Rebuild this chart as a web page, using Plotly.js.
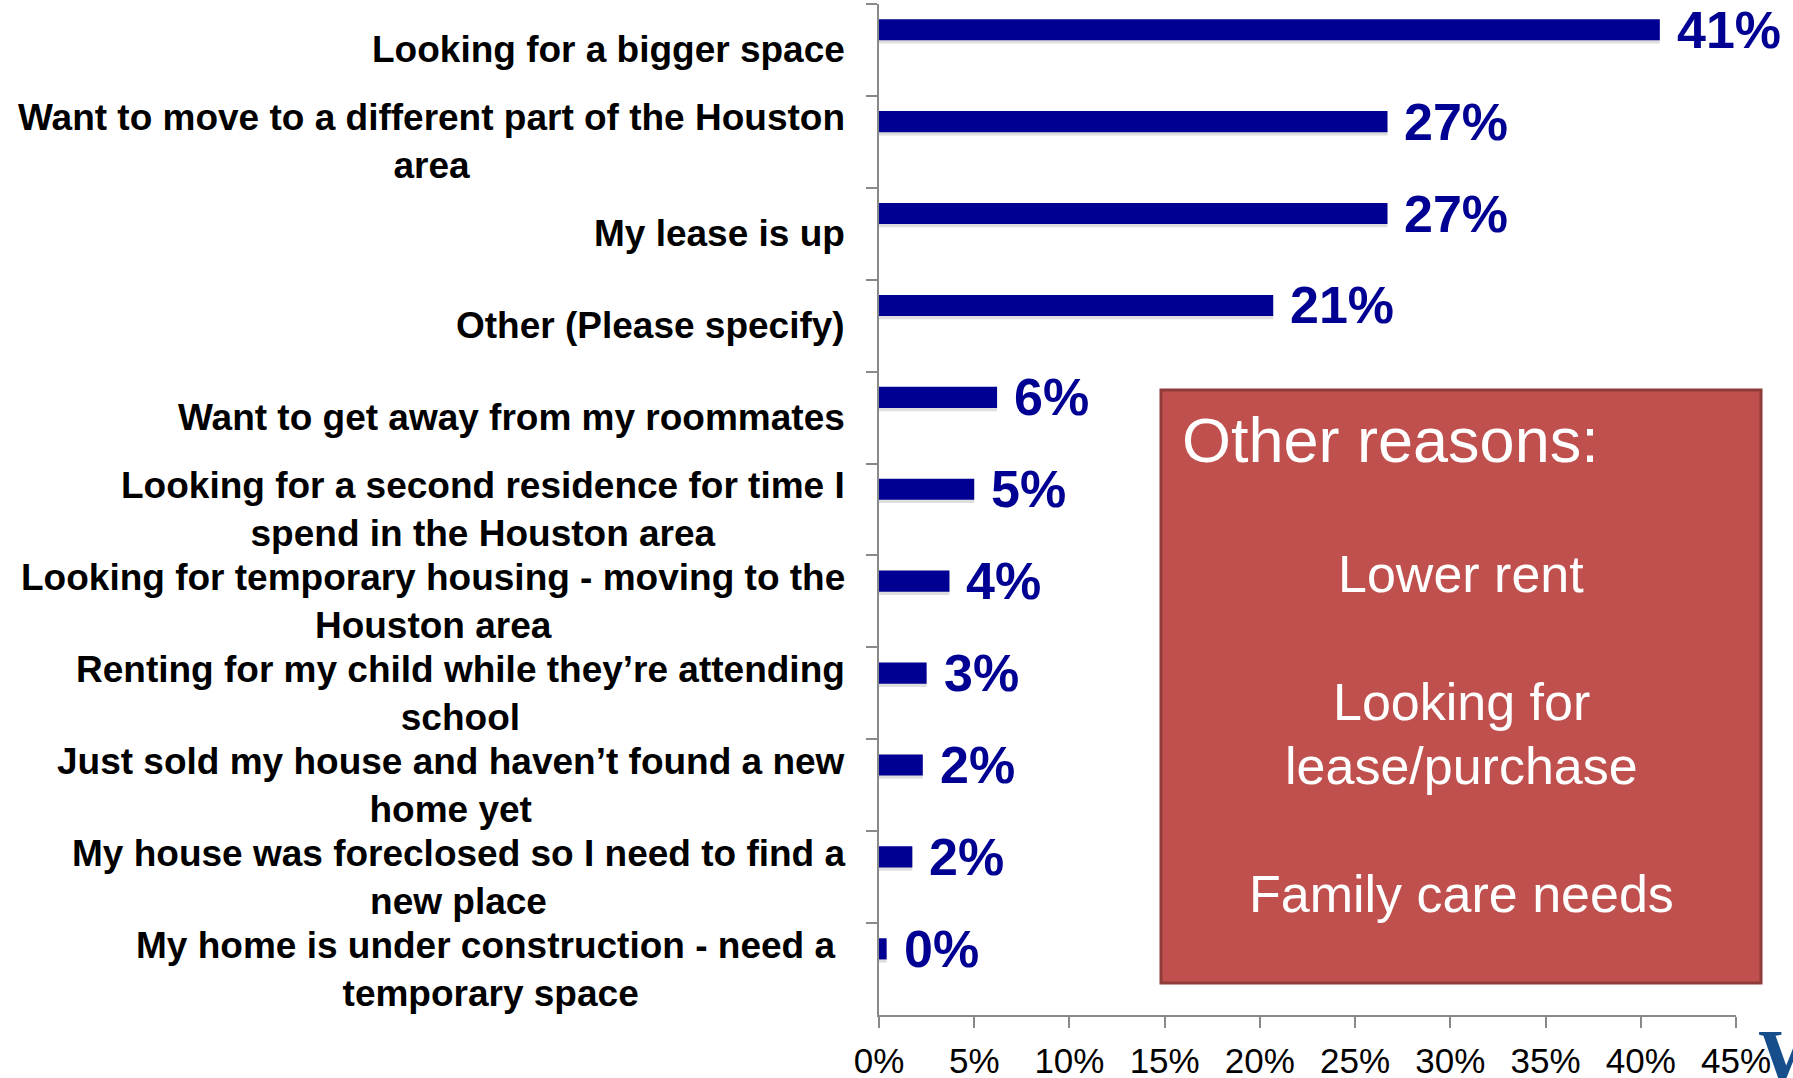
<!DOCTYPE html>
<html>
<head>
<meta charset="utf-8">
<script src="https://cdn.plot.ly/plotly-3.0.1.min.js"></script>
<style>
  html, body { margin: 0; padding: 0; background: #fff; }
  #chart { width: 1793px; height: 1078px; }
</style>
</head>
<body>
<div id="chart"></div>
<script>
// reasons, top to bottom
var reasons = [
  'Looking for a bigger space',
  'Want to move to a different part of the Houston<br>area',
  'My lease is up',
  'Other (Please specify)',
  'Want to get away from my roommates',
  'Looking for a second residence for time I<br>spend in the Houston area',
  'Looking for temporary housing - moving to the<br>Houston area',
  'Renting for my child while they\u2019re attending<br>school',
  'Just sold my house and haven\u2019t found a new<br>home yet',
  'My house was foreclosed so I need to find a<br>new place',
  'My home is under construction - need a\u00a0<br>temporary space'
];
var shares = [41.0, 26.7, 26.7, 20.7, 6.2, 5.0, 3.7, 2.5, 2.3, 1.75, 0.4];
var shareLabels = ['41%', '27%', '27%', '21%', '6%', '5%', '4%', '3%', '2%', '2%', '0%'];
var xTicks = [0, 5, 10, 15, 20, 25, 30, 35, 40, 45];
var xTickText = ['0%', '5%', '10%', '15%', '20%', '25%', '30%', '35%', '40%', '45%'];

var otherTitle = 'Other reasons:';
var otherLines = ['Lower rent', 'Looking for', 'lease/purchase', 'Family care needs'];

// page geometry (px)
var W = 1793, H = 1078;
var M = { l: 879, r: 57, t: 4, b: 63 };
var pw = W - M.l - M.r, ph = H - M.t - M.b;
function fx(p) { return (p - M.l) / pw; }
function fy(p) { return (H - M.b - p) / ph; }

var blue = 'rgb(0,0,146)';
var font = 'Liberation Sans, Arial, sans-serif';
var barW = 0.23, barOff = -0.335;  // bars sit in upper part of each row
var barMid = barOff + barW / 2;

var shadow = {
  type: 'bar', orientation: 'h',
  y: reasons, x: shares,
  width: barW, offset: barOff + 0.035,
  marker: { color: 'rgba(0,0,0,0.13)' },
  hoverinfo: 'skip'
};
var bars = {
  type: 'bar', orientation: 'h',
  y: reasons, x: shares,
  width: barW, offset: barOff,
  marker: { color: blue, line: { width: 0 } },
  hoverinfo: 'skip'
};

var ann = [];
reasons.forEach(function (r, i) {
  ann.push({
    xref: 'paper', yref: 'y', x: fx(847), y: r,
    xanchor: 'right', yanchor: 'middle', align: 'center',
    text: '<b>' + r + '</b>', showarrow: false,
    font: { family: font, size: 37, color: '#000' }
  });
  ann.push({
    xref: 'x', yref: 'y', x: shares[i], y: i + barMid,
    xanchor: 'left', yanchor: 'middle', xshift: 15,
    text: '<b>' + shareLabels[i] + '</b>', showarrow: false,
    font: { family: font, size: 52, color: blue }
  });
});

// callout box text
ann.push({
  xref: 'paper', yref: 'paper', x: fx(1180), y: fy(440),
  xanchor: 'left', yanchor: 'middle', text: otherTitle, showarrow: false,
  font: { family: font, size: 63, color: '#fff' }
});
var lineY = [574, 702, 766, 894];
otherLines.forEach(function (t, i) {
  ann.push({
    xref: 'paper', yref: 'paper', x: fx(1461), y: fy(lineY[i]),
    xanchor: 'center', yanchor: 'middle', text: t, showarrow: false,
    font: { family: font, size: 52, color: '#fff' }
  });
});

// logo letter, cut by the page edge
ann.push({
  xref: 'paper', yref: 'paper', x: fx(1756), y: fy(1012),
  xanchor: 'left', yanchor: 'top', text: '<b>W</b>', showarrow: false,
  font: { family: 'Liberation Serif, Times New Roman, serif', size: 76, color: 'rgb(22,78,140)' }
});

var layout = {
  width: W, height: H,
  margin: M,
  paper_bgcolor: '#fff', plot_bgcolor: '#fff',
  barmode: 'overlay',
  showlegend: false,
  hovermode: false,
  font: { family: font, color: '#000' },
  xaxis: {
    range: [0, 45], tickmode: 'array', tickvals: xTicks, ticktext: xTickText,
    showgrid: false, zeroline: false,
    showline: true, linecolor: 'rgb(137,137,137)', linewidth: 2,
    ticks: 'outside', ticklen: 11, tickwidth: 2, tickcolor: 'rgb(137,137,137)',
    ticklabelstandoff: 3,
    tickfont: { family: font, size: 35, color: '#000' }
  },
  yaxis: {
    type: 'category', autorange: false, range: [reasons.length - 0.5, -0.5],
    showgrid: false, zeroline: false, showticklabels: false,
    showline: true, linecolor: 'rgb(137,137,137)', linewidth: 2,
    ticks: 'outside', tickson: 'boundaries', ticklen: 11, tickwidth: 2,
    tickcolor: 'rgb(137,137,137)'
  },
  shapes: [{
    type: 'rect', xref: 'paper', yref: 'paper', layer: 'above',
    x0: fx(1161), x1: fx(1761), y0: fy(983), y1: fy(390),
    fillcolor: '#C0504D', line: { color: '#8E3B39', width: 3 }
  }],
  annotations: ann
};

Plotly.newPlot('chart', [shadow, bars], layout, { displayModeBar: false, staticPlot: true });
</script>
</body>
</html>
